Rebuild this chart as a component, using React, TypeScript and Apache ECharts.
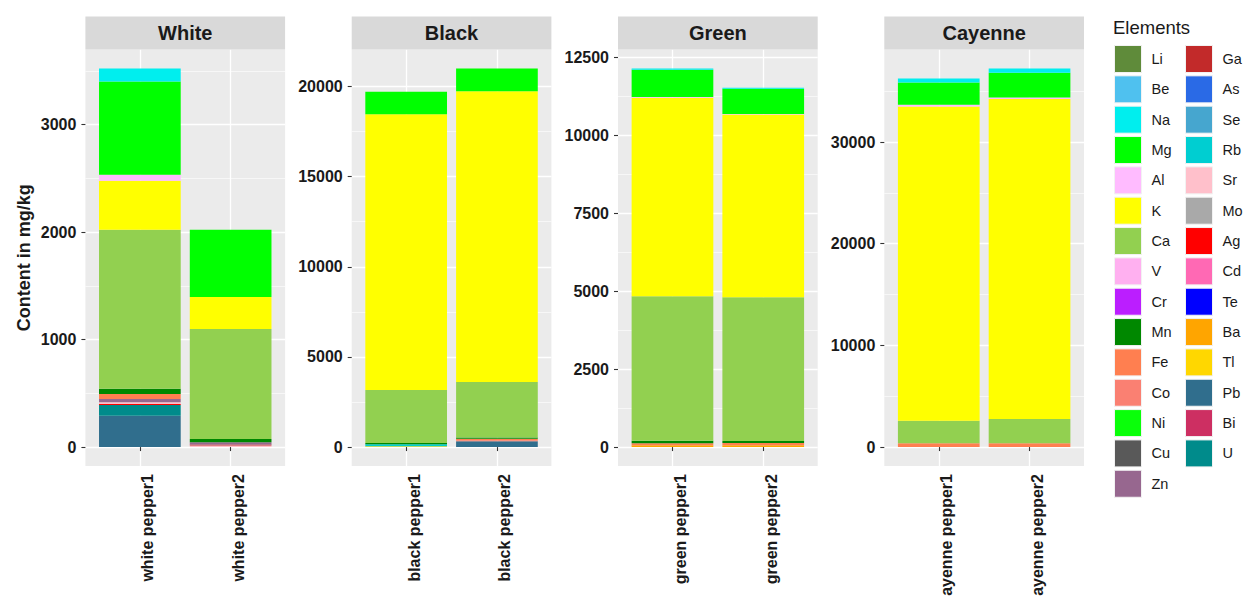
import { useEffect, useRef } from "react";
import * as echarts from "echarts";

// Samples, two per facet panel
const samples = [
  "white pepper1", "white pepper2",
  "black pepper1", "black pepper2",
  "green pepper1", "green pepper2",
  "cayenne pepper1", "cayenne pepper2",
];
const panelTitles = ["White", "Black", "Green", "Cayenne"];
const tickSteps = [1000, 5000, 2500, 10000];

// Elements in legend order, with their fill colours
const elements = [
  "Li", "Be", "Na", "Mg", "Al", "K", "Ca", "V", "Cr", "Mn", "Fe", "Co", "Ni", "Cu", "Zn",
  "Ga", "As", "Se", "Rb", "Sr", "Mo", "Ag", "Cd", "Te", "Ba", "Tl", "Pb", "Bi", "U",
];
const elementColors = [
  "#5F8B3A", "#4FC1EF", "#00EEEE", "#00FF00", "#FFBBFF", "#FFFF00", "#92D050", "#FFB0F0",
  "#BB1EFF", "#008800", "#FF7F50", "#FA8072", "#0AFF0A", "#595959", "#97678F",
  "#C22A2A", "#2A6AE6", "#46A6CF", "#00CED1", "#FFC0CB", "#A9A9A9", "#FF0000", "#FF69B4",
  "#0000FF", "#FFA500", "#FFD700", "#306E8D", "#CD2F62", "#008B8B",
];

// Content in mg/kg, one value per sample (same order as `samples`)
const Li = [0, 0, 0, 0, 0, 0, 0, 0];
const Be = [0, 0, 0, 0, 0, 0, 0, 0];
const Na = [122, 0, 0, 0, 40, 30, 391, 430];
const Mg = [867, 625, 1245, 1261, 879, 811, 2203, 2418];
const Al = [56, 0, 0, 0, 20, 15, 160, 170];
const K = [456, 298, 15294, 16128, 6368, 5865, 30914, 31465];
const Ca = [1479, 1024, 2945, 3083, 4638, 4616, 2222, 2389];
const V = [0, 0, 0, 0, 0, 0, 0, 0];
const Cr = [0, 0, 0, 0, 0, 0, 0, 0];
const Mn = [49, 31, 72, 65, 77, 64, 0, 0];
const Fe = [47, 0, 0, 88, 70, 68, 364, 364];
const Co = [0, 0, 0, 55, 0, 0, 0, 0];
const Ni = [0, 0, 0, 0, 0, 0, 0, 0];
const Cu = [0, 0, 0, 0, 0, 0, 0, 0];
const Zn = [31, 20, 0, 0, 0, 0, 0, 0];
const Ga = [0, 9, 0, 0, 0, 0, 0, 0];
const As = [0, 0, 0, 0, 0, 0, 0, 0];
const Se = [0, 0, 0, 0, 0, 0, 0, 0];
const Rb = [0, 0, 100, 0, 0, 0, 0, 0];
const Sr = [15, 15, 0, 0, 0, 0, 0, 0];
const Mo = [0, 0, 0, 0, 0, 0, 0, 0];
const Ag = [10, 0, 0, 0, 0, 0, 0, 0];
const Cd = [0, 0, 0, 0, 0, 0, 0, 0];
const Te = [0, 0, 0, 0, 0, 0, 0, 0];
const Ba = [0, 0, 0, 0, 55, 60, 0, 0];
const Tl = [0, 0, 50, 0, 0, 0, 0, 0];
const Pb = [292, 0, 0, 320, 0, 0, 0, 0];
const Bi = [0, 0, 0, 0, 0, 0, 0, 0];
const U = [99, 0, 0, 0, 0, 0, 0, 0];

const contentByElement: Record<string, number[]> = {
  Li, Be, Na, Mg, Al, K, Ca, V, Cr, Mn, Fe, Co, Ni, Cu, Zn,
  Ga, As, Se, Rb, Sr, Mo, Ag, Cd, Te, Ba, Tl, Pb, Bi, U,
};

// Bottom-to-top stacking order of the bar segments
const stackOrder = [
  "Pb", "U", "Bi", "Tl", "Ba", "Te", "Cd", "Ag", "Mo", "Sr", "Rb", "Se", "As", "Ga",
  "Zn", "Cu", "Ni", "Co", "Fe", "Mn", "Cr", "V", "Ca", "K", "Al", "Mg", "Na", "Be", "Li",
];

const FONT = "'Liberation Sans', Arial, sans-serif";
const TEXT = "#1A1A1A";

function buildOption() {
  const panelLeft0 = 85.4;
  const panelPitch = 266.3;
  const panelWidth = 199.7;
  const panelTop = 49.5;
  const panelHeight = 416.5;
  const unit = panelWidth / 2.2;

  const totals = samples.map((_, i) =>
    elements.reduce((s, el) => s + contentByElement[el][i], 0)
  );

  const grids: any[] = [];
  const xAxes: any[] = [];
  const yAxes: any[] = [];
  const series: any[] = [];
  const graphics: any[] = [];

  panelTitles.forEach((title, p) => {
    const left = panelLeft0 + p * panelPitch;
    const top = Math.max(totals[2 * p], totals[2 * p + 1]);
    const yMin = -0.05 * top;
    const yMax = 1.05 * top;
    const step = tickSteps[p];
    const ticks: number[] = [];
    for (let v = 0; v <= yMax; v += step) ticks.push(v);

    // panel background grid: gridlines, y ticks and labels
    grids.push({
      left, top: panelTop, width: panelWidth, height: panelHeight,
      show: true, backgroundColor: "#EBEBEB", borderWidth: 0,
      containLabel: false, outerBoundsMode: "none",
    });
    // bar grid: inner band area of the discrete x scale
    grids.push({
      left: left + 0.1 * unit, top: panelTop, width: 2 * unit, height: panelHeight,
      show: false, containLabel: false, outerBoundsMode: "none",
    });

    xAxes.push({
      type: "value", gridIndex: 2 * p, min: 0, max: 2.2,
      axisLine: { show: false },
      axisLabel: { show: false },
      axisTick: { show: true, length: 4, customValues: [0.6, 1.6], lineStyle: { color: "#333333", width: 1.1 } },
      splitLine: { show: true, lineStyle: { color: "#FFFFFF", width: 1.3 } },
    });
    xAxes.push({
      type: "category", gridIndex: 2 * p + 1, data: [samples[2 * p], samples[2 * p + 1]],
      axisLine: { show: false },
      axisTick: { show: false },
      splitLine: { show: false },
      axisLabel: {
        rotate: 90, margin: 8, fontSize: 16, fontWeight: "bold", color: TEXT,
        fontFamily: FONT, verticalAlign: "top", interval: 0,
      },
    });

    yAxes.push({
      type: "value", gridIndex: 2 * p, min: yMin, max: yMax,
      minInterval: step, maxInterval: step,
      axisLine: { show: false },
      axisTick: { show: true, length: 4, customValues: ticks, lineStyle: { color: "#333333", width: 1.1 } },
      axisLabel: {
        customValues: ticks, margin: 9, fontSize: 16, fontWeight: "bold", color: TEXT, fontFamily: FONT,
        formatter: (v: number) => String(Math.round(v)),
      },
      splitLine: { show: true, lineStyle: { color: "#FFFFFF", width: 1.3 } },
      minorTick: { show: false, splitNumber: 2 },
      minorSplitLine: { show: true, lineStyle: { color: "#FFFFFF", width: 0.6 } },
      ...(p === 0
        ? {
            name: "Content in mg/kg",
            nameLocation: "middle",
            nameRotate: 90,
            nameGap: 52,
            nameTextStyle: { fontSize: 18, fontWeight: "bold", color: TEXT, fontFamily: FONT },
          }
        : {}),
    });
    yAxes.push({
      type: "value", gridIndex: 2 * p + 1, min: yMin, max: yMax, show: false,
      splitLine: { show: false },
    });

    stackOrder.forEach((el) => {
      const vals = contentByElement[el];
      series.push({
        type: "bar",
        name: el,
        xAxisIndex: 2 * p + 1,
        yAxisIndex: 2 * p + 1,
        stack: "panel" + p,
        barWidth: "90%",
        silent: true,
        data: [vals[2 * p], vals[2 * p + 1]],
        itemStyle: { color: elementColors[elements.indexOf(el)] },
      });
    });

    // facet strip
    graphics.push({
      type: "rect", z: 10,
      shape: { x: left, y: 16.5, width: panelWidth, height: 33 },
      style: { fill: "#D9D9D9" },
    });
    graphics.push({
      type: "text", z: 11,
      x: left + panelWidth / 2, y: 33,
      style: {
        text: title, fill: TEXT, font: `bold 20px ${FONT}`,
        textAlign: "center", textVerticalAlign: "middle",
      },
    });
  });

  graphics.push({
    type: "text",
    x: 1113, y: 27,
    style: {
      text: "Elements", fill: TEXT, font: `18.5px ${FONT}`,
      textAlign: "left", textVerticalAlign: "middle",
    },
  });

  const legendBase = {
    orient: "vertical",
    top: 45,
    padding: 0,
    itemWidth: 27,
    itemHeight: 27,
    itemGap: 2.34,
    icon: "rect",
    selectedMode: false,
    itemStyle: { borderColor: "#F2F2F2", borderWidth: 1 },
    textStyle: { fontSize: 14.5, color: TEXT, fontFamily: FONT, padding: [0, 0, 0, 5] },
  };

  return {
    animation: false,
    textStyle: { fontFamily: FONT },
    grid: grids,
    xAxis: xAxes,
    yAxis: yAxes,
    legend: [
      { ...legendBase, left: 1114, data: elements.slice(0, 15) },
      { ...legendBase, left: 1185, data: elements.slice(15) },
    ],
    graphic: graphics,
    series,
  };
}

export default function App() {
  const ref = useRef<HTMLDivElement>(null);
  useEffect(() => {
    if (!ref.current) return;
    const chart = echarts.init(ref.current, undefined, { renderer: "svg" });
    chart.setOption(buildOption() as any);
    return () => chart.dispose();
  }, []);
  return (
    <div
      ref={ref}
      style={{ position: "absolute", left: 0, top: 0, width: 1245, height: 596, background: "#FFFFFF" }}
    />
  );
}
